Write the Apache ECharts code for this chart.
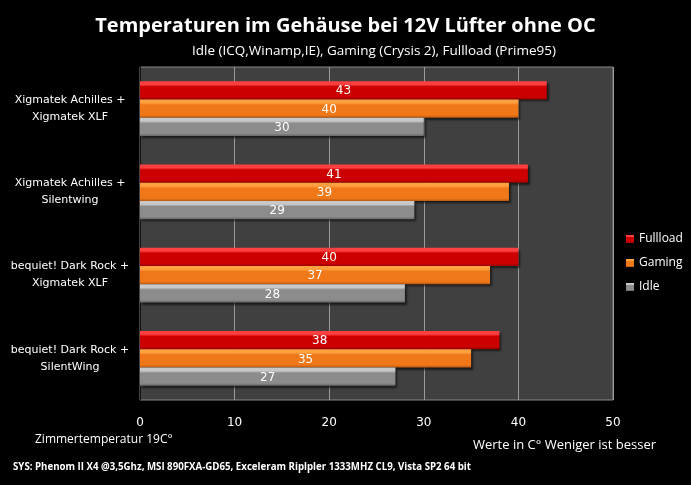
<!DOCTYPE html>
<html>
<head>
<meta charset="utf-8">
<script src="https://cdn.jsdelivr.net/npm/echarts@6/dist/echarts.min.js"></script>
<style>
  html, body { margin: 0; padding: 0; background: #000; }
  #chart { width: 691px; height: 485px; }
</style>
</head>
<body>
<div id="chart"></div>
<script>
// Kühler-Kombinationen (von oben nach unten)
const coolers = [
  'Xigmatek Achilles +\nXigmatek XLF',
  'Xigmatek Achilles +\nSilentwing',
  'bequiet! Dark Rock +\nXigmatek XLF',
  'bequiet! Dark Rock +\nSilentWing'
]
const fullload = [43, 41, 40, 38]
const gaming = [40, 39, 37, 35]
const idle = [30, 29, 28, 27]
const xTicks = [0, 10, 20, 30, 40, 50]

// Balken-Verlauf: heller Rand oben, dunkler unten
const barColor = function (top, mid, bottom) {
  return new echarts.graphic.LinearGradient(0, 0, 0, 1, [
    { offset: 0, color: top },
    { offset: 0.18, color: top },
    { offset: 0.3, color: mid },
    { offset: 0.85, color: mid },
    { offset: 1, color: bottom }
  ])
}

const makeSeries = function (name, data, colors) {
  return {
    name: name,
    type: 'bar',
    data: data,
    barGap: '0%',
    barCategoryGap: '34%',
    itemStyle: {
      color: barColor(colors[0], colors[1], colors[2]),
      shadowColor: 'rgba(0,0,0,0.6)',
      shadowBlur: 2,
      shadowOffsetX: 2,
      shadowOffsetY: 2
    },
    label: {
      show: true,
      position: 'inside',
      offset: [0, 1],
      color: '#fff',
      fontFamily: 'Verdana, DejaVu Sans',
      fontSize: 12
    }
  }
}

let myChart = echarts.init(document.getElementById('chart'))
let option = {
  backgroundColor: '#000',
  animation: false,
  title: [
    {
      text: 'Temperaturen im Gehäuse bei 12V Lüfter ohne OC',
      left: 'center',
      top: 11,
      textStyle: { color: '#fff', fontSize: 20, fontWeight: 'bold', fontFamily: 'Open Sans' }
    },
    {
      text: 'Idle (ICQ,Winamp,IE), Gaming (Crysis 2), Fullload (Prime95)',
      left: 187,
      top: 39,
      textStyle: { color: '#fff', fontSize: 13.5, fontWeight: 'normal', fontFamily: 'Open Sans' }
    },
    {
      text: 'Zimmertemperatur 19C°',
      left: 30,
      top: 429,
      textStyle: { color: '#fff', fontSize: 12, fontWeight: 'normal', fontFamily: 'Open Sans' }
    },
    {
      text: 'Werte in C° Weniger ist besser',
      left: 468,
      top: 434,
      textStyle: { color: '#fff', fontSize: 13, fontWeight: 'normal', fontFamily: 'Open Sans' }
    },
    {
      text: 'SYS: Phenom II X4 @3,5Ghz, MSI 890FXA-GD65, Exceleram Riplpler 1333MHZ CL9, Vista SP2 64 bit',
      left: 8,
      top: 457,
      textStyle: { color: '#fff', fontSize: 9.7, fontWeight: 'bold', fontFamily: 'Open Sans' }
    }
  ],
  legend: {
    orient: 'vertical',
    left: 621,
    top: 228,
    itemWidth: 8,
    itemHeight: 8,
    itemGap: 12,
    icon: 'rect',
    textStyle: { color: '#fff', fontSize: 12, fontFamily: 'Open Sans' },
    data: ['Fullload', 'Gaming', 'Idle']
  },
  grid: {
    left: 140,
    right: 78,
    top: 67,
    bottom: 85,
    show: true,
    backgroundColor: '#404040',
    borderColor: '#888',
    borderWidth: 1
  },
  xAxis: {
    type: 'value',
    min: 0,
    max: 50,
    interval: 10,
    axisLine: { show: false },
    axisTick: { show: false },
    splitLine: { show: true, lineStyle: { color: '#9a9a9a', width: 1 } },
    axisLabel: {
      color: '#fff',
      fontSize: 12,
      fontFamily: 'Verdana, DejaVu Sans',
      margin: 17,
      formatter: function (v) { return xTicks.indexOf(v) >= 0 ? String(v) : '' }
    }
  },
  yAxis: {
    type: 'category',
    inverse: true,
    data: coolers,
    axisLine: { show: true, lineStyle: { color: '#111' } },
    axisTick: { show: false },
    axisLabel: {
      color: '#fff',
      fontSize: 11,
      fontFamily: 'Verdana, DejaVu Sans',
      align: 'center',
      margin: 70,
      lineHeight: 17
    }
  },
  series: [
    makeSeries('Fullload', fullload, ['#ff4040', '#cc0000', '#990000']),
    makeSeries('Gaming', gaming, ['#ffa040', '#f07818', '#b85810']),
    makeSeries('Idle', idle, ['#c8c8c8', '#8c8c8c', '#666666'])
  ]
}
myChart.setOption(option)
</script>
</body>
</html>
